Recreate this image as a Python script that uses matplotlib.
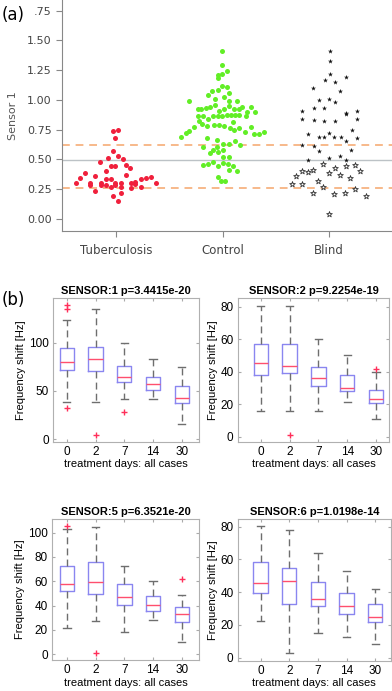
import matplotlib
matplotlib.use("Agg")
from matplotlib import pyplot as plt

# ---- panel (a): Sensor 1 scatter, (x offset, value) pairs
tb_dx = [-0.03, 0.02, -0.01, -0.03, 0.02, -0.08, 0.06, -0.15, -0.05, -0.01, 0.09, 0.13,
         -0.10, 0.09, -0.29, -0.34, -0.38, -0.25, -0.25, -0.20, -0.14, -0.14, -0.10, -0.05,
         -0.10, -0.05, -0.01, -0.01, 0.04, 0.04, 0.14, 0.18, 0.18, 0.23, 0.28, 0.33, 0.37,
         0.23, 0.14, -0.20, 0.04, -0.03, 0.02]
tb_val = [0.74, 0.75, 0.68, 0.57, 0.53, 0.51, 0.50, 0.48, 0.44, 0.44, 0.45, 0.43,
          0.40, 0.37, 0.38, 0.34, 0.30, 0.30, 0.28, 0.36, 0.30, 0.28, 0.33, 0.33,
          0.28, 0.27, 0.30, 0.28, 0.30, 0.27, 0.30, 0.31, 0.29, 0.33, 0.34, 0.35, 0.30,
          0.27, 0.26, 0.23, 0.22, 0.19, 0.15]

ct_x = [668, 668, 655, 668, 682, 655, 668, 682, 638, 625, 655, 688, 648, 675, 570, 690,
        712, 605, 620, 595, 632, 647, 660, 675, 690, 705, 718, 728, 742, 755, 766, 596,
        610, 625, 640, 655, 668, 682, 695, 708, 720, 740, 607, 622, 645, 660, 675, 692,
        705, 720, 735, 755, 583, 570, 560, 546, 764, 778, 792, 622, 652, 670, 690, 708,
        722, 612, 640, 652, 655, 670, 632, 670, 688, 640, 670, 625, 612, 655, 685, 700,
        688, 712, 655, 665, 678, 600, 700]
ct_val = [1.41, 1.29, 1.21, 1.22, 1.24, 1.18, 1.12, 1.11, 1.07, 1.04, 1.08, 1.06, 1.01, 1.02,
          0.99, 0.99, 0.99, 0.92, 0.93, 0.92, 0.94, 0.96, 0.91, 0.92, 0.95, 0.92, 0.92, 0.94,
          0.90, 0.94, 0.90, 0.86, 0.86, 0.84, 0.86, 0.86, 0.86, 0.87, 0.87, 0.87, 0.87, 0.86,
          0.80, 0.78, 0.79, 0.79, 0.78, 0.76, 0.75, 0.76, 0.73, 0.77, 0.77, 0.74, 0.72, 0.69,
          0.71, 0.71, 0.73, 0.68, 0.66, 0.63, 0.63, 0.65, 0.62, 0.60, 0.58, 0.60, 0.56, 0.58,
          0.55, 0.52, 0.52, 0.48, 0.47, 0.46, 0.45, 0.44, 0.46, 0.44, 0.41, 0.40, 0.35, 0.32,
          0.32, 0.82, 0.81]

bf_x = [990, 990, 990, 975, 1005, 1038, 940, 1020, 958, 988, 1005, 942, 972, 908, 1038,
        1038, 1070, 908, 942, 972, 1005, 1070, 925, 958, 972, 988, 1003, 1022, 1055, 1070,
        908, 942, 958, 1038, 1052, 925, 988, 1020, 1038]
bf_val = [1.41, 1.33, 1.22, 1.17, 1.15, 1.19, 1.10, 1.07, 1.00, 1.01, 0.98, 0.93, 0.93, 0.91,
          0.89, 0.88, 0.91, 0.84, 0.83, 0.82, 0.82, 0.84, 0.71, 0.69, 0.69, 0.72, 0.69, 0.69,
          0.75, 0.68, 0.62, 0.61, 0.57, 0.65, 0.58, 0.49, 0.51, 0.53, 0.49]

bo_x = [890, 908, 925, 940, 970, 1005, 1038, 1065, 1080, 878, 908, 955, 988, 1020, 1050,
        940, 970, 1003, 1035, 1065, 1098, 988]
bo_val = [0.36, 0.40, 0.39, 0.41, 0.46, 0.43, 0.44, 0.45, 0.40, 0.29, 0.29, 0.32, 0.38, 0.37,
          0.34, 0.22, 0.27, 0.21, 0.22, 0.25, 0.19, 0.04]

groups = ["Tuberculosis", "Control", "Blind"]
y_ticks_a = [0, 0.25, 0.5, 0.75, 1.0, 1.25, 1.5, 1.75]
y_labels_a = ["0.00", "0.25", "0.50", "0.75", "1.00", "1.25", "1.50", ".75"]
cut_hi, cut_mid, cut_lo = 0.62, 0.495, 0.26

# ---- panel (b): box plot statistics
days = ["0", "2", "7", "14", "30"]
titles = ["SENSOR:1 p=3.4415e-20", "SENSOR:2 p=9.2254e-19",
          "SENSOR:5 p=6.3521e-20", "SENSOR:6 p=1.0198e-14"]
s1_q1 = [71.7, 70.7, 59.3, 51.0, 37.9]
s1_med = [80.0, 82.8, 64.8, 56.9, 42.4]
s1_q3 = [94.8, 95.9, 76.2, 64.8, 55.2]
s1_lo = [39.0, 39.0, 41.7, 41.4, 15.5]
s1_hi = [123.4, 134.8, 99.3, 82.8, 75.2]
s1_out = [[139, 135, 32], [4.5], [28], [], []]

s2_q1 = [37.7, 39.4, 31.2, 28.1, 20.5]
s2_med = [45.1, 43.7, 35.9, 29.7, 23.4]
s2_q3 = [57.0, 57.0, 43.1, 37.9, 28.7]
s2_lo = [16.0, 16.0, 16.0, 21.5, 10.7]
s2_hi = [80.6, 80.6, 59.9, 50.3, 39.6]
s2_out = [[], [1.0], [], [], [41.4]]

s5_q1 = [52.0, 49.3, 40.5, 35.6, 26.3]
s5_med = [57.8, 59.7, 47.4, 40.5, 32.9]
s5_q3 = [72.9, 76.2, 57.5, 48.0, 38.6]
s5_lo = [21.4, 27.4, 18.6, 28.2, 9.9]
s5_hi = [103.0, 104.4, 72.9, 60.5, 48.8]
s5_out = [[105.5], [0.8], [], [], [61.6]]

s6_q1 = [39.3, 32.8, 31.6, 26.5, 22.0]
s6_med = [45.4, 46.8, 35.8, 31.6, 25.0]
s6_q3 = [58.7, 55.0, 46.0, 39.3, 32.8]
s6_lo = [22.4, 2.6, 14.9, 12.8, 8.1]
s6_hi = [80.7, 78.0, 63.7, 53.2, 42.0]
s6_out = [[], [], [], [], []]

W, H = 392, 691
fig = plt.figure(figsize=(W / 100, H / 100), dpi=100)

# ------------------------------------------------ panel (a)
ax = fig.add_axes([62 / W, 1 - 231 / H, (W - 62) / W, 231 / H])
ax.scatter(tb_dx, tb_val, s=13, color="#f0203c", linewidths=0, zorder=3)
ax.scatter([1 + (x - 670) / 318 for x in ct_x], ct_val, s=13, color="#62ee26",
           linewidths=0, zorder=3)
ax.scatter([2 + (x - 988) / 318 for x in bf_x], bf_val, s=14, marker="*",
           color="#111111", linewidths=0, zorder=3)
ax.scatter([2 + (x - 988) / 318 for x in bo_x], bo_val, s=18, marker="*",
           facecolor="white", edgecolor="#333333", linewidths=0.6, zorder=3)
ax.axhline(cut_hi, color="#f7b98a", lw=1.4, ls=(0, (4, 3)), zorder=1)
ax.axhline(cut_lo, color="#f7b98a", lw=1.4, ls=(0, (4, 3)), zorder=1)
ax.axhline(cut_mid, color="#bcc2c6", lw=1.0, zorder=1)
ax.set_xlim(-0.51, 2.59)
ax.set_ylim(-0.104, 1.84)
ax.set_xticks(range(len(groups)))
ax.set_xticklabels(groups, fontsize=8.5, color="#444444")
ax.set_yticks(y_ticks_a)
ax.set_yticklabels(y_labels_a, fontsize=8, color="#444444")
ax.set_ylabel("Sensor 1", fontsize=8, color="#555555", labelpad=6)
for side in ["top", "right"]:
    ax.spines[side].set_visible(False)
for side in ["left", "bottom"]:
    ax.spines[side].set_color("#888888")
ax.tick_params(colors="#888888", labelcolor="#444444", length=4, width=0.8)
ax.tick_params(axis="x", pad=5)
fig.text(2 / W, 1 - 15 / H, "(a)", fontsize=12, va="center", ha="left")
fig.text(2 / W, 1 - 300 / H, "(b)", fontsize=12, va="center", ha="left")

# ------------------------------------------------ panel (b)
panels = [
    (s1_q1, s1_med, s1_q3, s1_lo, s1_hi, s1_out, [53, 199.3, 298.3, 441.7],
     (0.52, 5.61), (-2.5, 145.8), [0, 50, 100]),
    (s2_q1, s2_med, s2_q3, s2_lo, s2_hi, s2_out, [237.7, 389.3, 298.3, 441.7],
     (0.2, 5.46), (-3.1, 85.2), [0, 20, 40, 60, 80]),
    (s5_q1, s5_med, s5_q3, s5_lo, s5_hi, s5_out, [52, 199.3, 519.3, 660],
     (0.48, 5.61), (-4.7, 111), [0, 20, 40, 60, 80, 100]),
    (s6_q1, s6_med, s6_q3, s6_lo, s6_hi, s6_out, [237.7, 391, 519.3, 660.7],
     (0.2, 5.55), (-1.8, 84.5), [0, 20, 40, 60, 80]),
]

bfont = "Liberation Sans"
for i, (q1, med, q3, lo, hi, out, box, xl, yl, yt) in enumerate(panels):
    l, r, t, b = box
    bax = fig.add_axes([l / W, 1 - b / H, (r - l) / W, (b - t) / H])
    stats = []
    for j in range(len(days)):
        stats.append({"q1": q1[j], "med": med[j], "q3": q3[j], "whislo": lo[j],
                      "whishi": hi[j], "fliers": out[j], "label": days[j]})
    bax.bxp(stats, positions=range(1, len(days) + 1), widths=0.5,
            boxprops=dict(color="#8a86f0", lw=1.0),
            medianprops=dict(color="#ff4f6e", lw=1.0),
            whiskerprops=dict(color="#6e6e6e", lw=1.0, ls=(0, (5, 3))),
            capprops=dict(color="#6e6e6e", lw=1.0),
            capwidths=0.25,
            flierprops=dict(marker="+", markeredgecolor="#ff2f5a", markersize=5,
                            markeredgewidth=1.0))
    bax.set_xlim(*xl)
    bax.set_ylim(*yl)
    bax.set_yticks(yt)
    bax.tick_params(direction="in", length=2.5, colors="#aaaaaa", labelcolor="black",
                    labelsize=8.5, top=True, right=True, pad=3)
    for lab in bax.get_xticklabels() + bax.get_yticklabels():
        lab.set_fontfamily(bfont)
    for sp in bax.spines.values():
        sp.set_color("#b0b0b0")
        sp.set_linewidth(0.8)
    bax.set_title(titles[i], fontsize=8, fontweight="bold", pad=3, family=bfont)
    bax.set_xlabel("treatment days: all cases", fontsize=8, labelpad=1, family=bfont)
    bax.set_ylabel("Frequency shift [Hz]", fontsize=8, labelpad=2, family=bfont)

fig.savefig("out.png", dpi=100)
